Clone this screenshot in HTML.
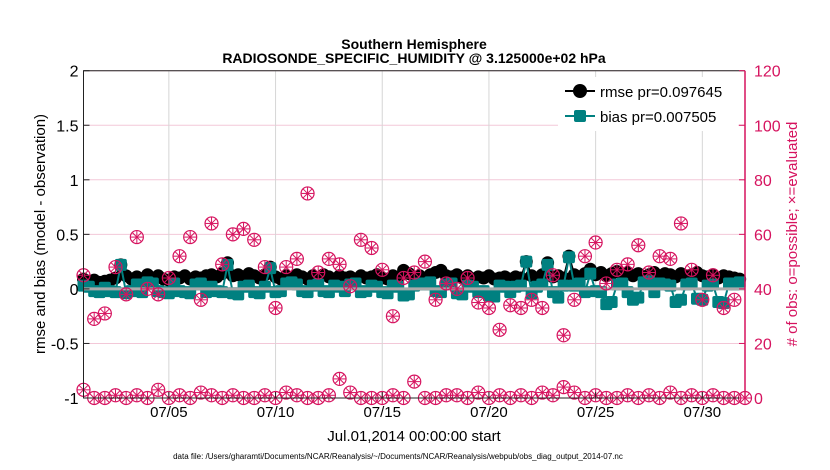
<!DOCTYPE html>
<html><head><meta charset="utf-8"><style>
html,body{margin:0;padding:0;background:#fff}
svg{display:block;font-family:"Liberation Sans",sans-serif}
</style></head><body>
<svg id="chart" width="830" height="470" viewBox="0 0 830 470" xmlns="http://www.w3.org/2000/svg">
<text x="414" y="49" text-anchor="middle" font-size="14" font-weight="bold">Southern Hemisphere</text>
<text x="414" y="63" text-anchor="middle" font-size="14" font-weight="bold">RADIOSONDE_SPECIFIC_HUMIDITY @ 3.125000e+02 hPa</text>
<g id="grid"></g>
<g id="marks"></g>
<g id="axes"></g>
<text transform="translate(45,234) rotate(-90)" text-anchor="middle" font-size="15">rmse and bias (model - observation)</text>
<text transform="translate(797,234) rotate(-90)" text-anchor="middle" font-size="15" fill="#d6135f"># of obs: o=possible; ×=evaluated</text>
<text x="414" y="441" text-anchor="middle" font-size="15">Jul.01,2014 00:00:00 start</text>
<text x="398" y="459" text-anchor="middle" font-size="8">data file: /Users/gharamti/Documents/NCAR/Reanalysis/~/Documents/NCAR/Reanalysis/webpub/obs_diag_output_2014-07.nc</text>
<g>
<rect x="558" y="77" width="180" height="54" fill="#fff" stroke="none"/>
<line x1="565" y1="91" x2="595" y2="91" stroke="#000" stroke-width="2"/>
<circle cx="580" cy="91" r="7" fill="#000"/>
<text x="600" y="97" font-size="15">rmse pr=0.097645</text>
<line x1="565" y1="116" x2="595" y2="116" stroke="#008080" stroke-width="2"/>
<rect x="574" y="110" width="12" height="12" rx="2" fill="#008080"/>
<text x="600" y="122" font-size="15">bias pr=0.007505</text>
</g>
</svg>
<script>
const rmse=[0.09,0.07,0.08,0.06,0.07,0.08,0.10,0.22,0.12,0.09,0.11,0.08,0.13,0.10,0.12,0.09,0.08,0.11,0.10,0.12,
0.09,0.11,0.10,0.12,0.13,0.11,0.14,0.24,0.12,0.13,0.11,0.14,0.12,0.10,0.13,0.20,0.11,0.09,0.12,0.10,
0.13,0.11,0.09,0.12,0.10,0.13,0.11,0.09,0.12,0.10,0.11,0.09,0.12,0.10,0.11,0.13,0.10,0.09,0.12,0.10,
0.17,0.14,0.11,0.12,0.10,0.13,0.15,0.17,0.12,0.11,0.13,0.10,0.12,0.09,0.11,0.10,0.12,0.09,0.10,0.11,
0.09,0.11,0.10,0.25,0.12,0.10,0.13,0.24,0.11,0.12,0.10,0.30,0.13,0.11,0.14,0.18,0.13,0.15,0.12,0.14,
0.16,0.13,0.15,0.12,0.14,0.11,0.13,0.15,0.12,0.14,0.13,0.11,0.14,0.12,0.13,0.15,0.12,0.11,0.13,0.10,0.12,0.11,0.10,0.09];
const bias=[0.03,0.02,-0.02,-0.03,0.01,-0.02,-0.03,0.22,-0.04,-0.02,0.04,-0.03,0.06,0.05,-0.02,-0.03,-0.04,0.05,-0.02,-0.03,
-0.04,0.04,0.05,-0.03,0.02,-0.02,-0.03,0.22,-0.04,-0.05,0.02,0.03,-0.03,-0.04,0.02,0.19,-0.03,-0.02,0.05,0.06,
0.04,-0.02,-0.03,0.03,0.04,-0.02,-0.03,0.03,0.02,-0.02,0.04,0.05,-0.03,-0.02,0.03,0.02,-0.03,-0.04,0.03,0.02,
-0.06,-0.05,0.03,0.05,0.04,0.06,-0.02,-0.03,0.04,0.05,-0.04,-0.05,0.03,0.02,-0.03,-0.02,-0.06,-0.07,0.03,0.02,
-0.03,0.02,0.03,0.25,-0.04,0.02,0.04,0.22,-0.03,-0.08,0.03,0.29,0.03,0.05,-0.03,0.14,-0.02,-0.03,-0.14,-0.12,
0.04,0.05,-0.03,-0.10,-0.08,0.06,0.07,-0.03,0.05,0.04,0.03,-0.12,-0.10,0.04,0.05,-0.09,-0.10,0.03,0.04,-0.12,-0.13,0.05,0.04,0.06];
const obsUpper=[45,29,31,48,38,59,40,38,44,52,59,36,64,49,60,62,58,48,33,48,51,75,46,51,49,41,58,55,47,30,44,46,50,36,42,40,44,35,33,25,34,33,36,33,45,23,36,52,57,42,47,49,56,46,52,51,64,47,36,45,33,36];
const obsLower=[3,0,0,1,0,1,0,3,0,1,0,2,1,0,1,0,0,1,0,2,1,0,0,1,7,2,0,0,0,1,0,6,0,0,1,1,0,2,0,1,0,1,0,2,1,4,2,0,1,0,0,1,0,1,0,2,0,1,0,1,0,0,0];
const leftTicks=[-1,-0.5,0,0.5,1,1.5,2];
const leftTickLabels=["-1","-0.5","0","0.5","1","1.5","2"];
const rightTicks=[0,20,40,60,80,100,120];
const xTicks=[4,9,14,19,24,29];
const xTickLabels=["07/05","07/10","07/15","07/20","07/25","07/30"];

const L=83.5,R=745,T=70.7,B=398;
const xs=t=>L+t*(R-L)/31;
const yl=v=>B-(v+1)*(B-T)/3;
const yr=v=>B-v*(B-T)/120;
const NS="http://www.w3.org/2000/svg";
function mk(tag,attrs,parent){const e=document.createElementNS(NS,tag);for(const k in attrs)e.setAttribute(k,attrs[k]);parent.appendChild(e);return e;}
const grid=document.getElementById('grid'),marks=document.getElementById('marks'),axes=document.getElementById('axes');

rightTicks.forEach(v=>{const l=mk('line',{x1:L,x2:R,y1:yr(v),y2:yr(v),stroke:'#f3c8d8','stroke-width':1},grid);

});
xTicks.forEach(t=>{const l=mk('line',{x1:xs(t),x2:xs(t),y1:T,y2:B,stroke:'#d6d6d6','stroke-width':1},grid);

});

let p=rmse.map((v,i)=>xs(i/4).toFixed(1)+','+yl(v).toFixed(1)).join(' ');
const rl=mk('polyline',{points:p,fill:'none',stroke:'#000','stroke-width':2},marks);


rmse.forEach((v,i)=>{const c=mk('circle',{cx:xs(i/4),cy:yl(v),r:6.5,fill:'#000'},marks);

});
p=bias.map((v,i)=>xs(i/4).toFixed(1)+','+yl(v).toFixed(1)).join(' ');
const bl=mk('polyline',{points:p,fill:'none',stroke:'#008080','stroke-width':2},marks);


bias.forEach((v,i)=>{const r=mk('rect',{x:xs(i/4)-6,y:yl(v)-6,width:12,height:12,rx:2,fill:'#008080'},marks);

});
const zl=mk('line',{x1:L,x2:R,y1:yl(0),y2:yl(0),stroke:'#aaaaaa','stroke-width':3},marks);



function obsMarker(cx,cy){
  const g=mk('g',{},marks);
  mk('circle',{cx:cx,cy:cy,r:6.5,fill:'none',stroke:'#d6135f','stroke-width':1.2},g);
  for(let k=0;k<4;k++){const a=k*Math.PI/4;mk('line',{x1:cx-6*Math.cos(a),y1:cy-6*Math.sin(a),x2:cx+6*Math.cos(a),y2:cy+6*Math.sin(a),stroke:'#d6135f','stroke-width':1},g);}
  return g;
}
obsUpper.forEach((v,i)=>{const g=obsMarker(xs(i/2),yr(v));

});
obsLower.forEach((v,i)=>{const g=obsMarker(xs(i/2),yr(v));

});

const fr=mk('path',{d:`M${R},${T} L${L},${T} L${L},${B} L${R},${B}`,fill:'none',stroke:'#222','stroke-width':1},axes);


const ra=mk('line',{x1:R,x2:R,y1:T,y2:B,stroke:'#d6135f','stroke-width':1.5},axes);


leftTicks.forEach((v,i)=>{mk('line',{x1:L,x2:L+6,y1:yl(v),y2:yl(v),stroke:'#222'},axes);
const t=mk('text',{x:L-5,y:yl(v)+6,'text-anchor':'end','font-size':16},axes);t.textContent=leftTickLabels[i];

});
rightTicks.forEach(v=>{mk('line',{x1:R-6,x2:R,y1:yr(v),y2:yr(v),stroke:'#d6135f'},axes);
const t=mk('text',{x:R+9,y:yr(v)+6,'font-size':16,fill:'#d6135f'},axes);t.textContent=String(v);

});
xTicks.forEach((tv,i)=>{mk('line',{x1:xs(tv),x2:xs(tv),y1:B,y2:B-6,stroke:'#222'},axes);
const t=mk('text',{x:xs(tv),y:B+19,'text-anchor':'middle','font-size':15},axes);t.textContent=xTickLabels[i];

});
</script>
</body></html>
